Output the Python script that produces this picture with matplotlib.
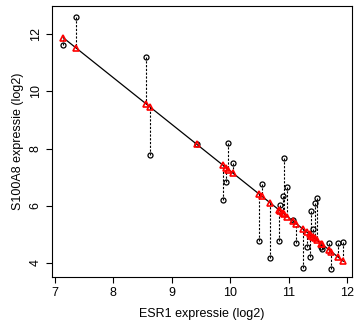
import numpy as np
import matplotlib
matplotlib.use("Agg")
import matplotlib.pyplot as plt

plt.rcParams['font.family'] = ['Liberation Sans', 'DejaVu Sans']

# ESR1 (x) and S100A8 (y) expression, log2
esr1 = [7.14, 7.36, 8.56, 8.63, 9.43, 9.88, 9.93, 9.97, 10.04,
        10.50, 10.54, 10.69, 10.84, 10.86, 10.90, 10.92, 10.98,
        11.08, 11.13, 11.25, 11.31, 11.36, 11.39, 11.42, 11.45,
        11.49, 11.56, 11.57, 11.70, 11.73, 11.84, 11.94]
s100a8 = [11.62, 12.59, 11.19, 7.78, 8.15, 6.20, 6.84, 8.19, 7.49,
          4.77, 6.78, 4.19, 4.76, 6.04, 6.34, 7.68, 6.66,
          5.50, 4.71, 3.82, 4.55, 4.21, 5.81, 5.20, 6.09,
          6.29, 4.55, 4.48, 4.69, 3.79, 4.71, 4.72]

# regression line: S100A8 = intercept + slope * ESR1
fit_intercept = 23.52
fit_slope = -1.63

x_ticks = [7, 8, 9, 10, 11, 12]
y_ticks = [4, 6, 8, 10, 12]

x = np.array(esr1)
y = np.array(s100a8)
order = np.argsort(x)
x, y = x[order], y[order]
fitted = fit_intercept + fit_slope * x

fig = plt.figure(figsize=(3.55, 3.22), dpi=100)
ax = fig.add_axes([0.1465, 0.1398, 0.845, 0.8416])

ax.plot(x, fitted, color='black', lw=0.9, zorder=2)
ax.vlines(x, y, fitted, colors='black', linestyles=(0, (2.0, 1.4)), lw=0.8, zorder=3)
ax.plot(x, y, 'o', mfc='none', mec='black', ms=3.6, mew=0.9, zorder=4)
ax.plot(x, fitted, '^', mfc='none', mec='red', ms=4.8, mew=1.2, zorder=5)

ax.set_xlim(6.949, 12.086)
ax.set_ylim(3.51, 12.99)
ax.set_xticks(x_ticks)
ax.set_yticks(y_ticks)
ax.set_yticklabels([str(t) for t in y_ticks], rotation=90, va='center')
ax.tick_params(direction='out', length=4, width=0.8, labelsize=9, pad=3.5)
for s in ax.spines.values():
    s.set_linewidth(0.8)

ax.set_xlabel('ESR1 expressie (log2)', fontsize=9, labelpad=6)
ax.set_ylabel('S100A8 expressie (log2)', fontsize=9, labelpad=4)

fig.savefig('out.png', dpi=100)
